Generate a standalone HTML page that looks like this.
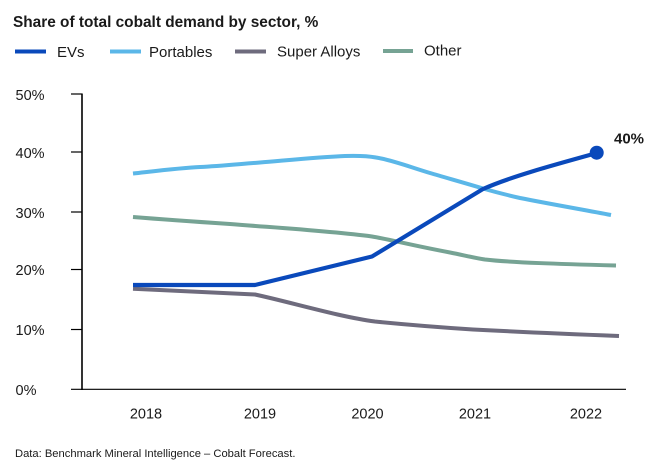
<!DOCTYPE html>
<html>
<head>
<meta charset="utf-8">
<style>
  html, body { margin:0; padding:0; background:#fff; }
  body { width:659px; height:468px; overflow:hidden; position:relative; font-family:"Liberation Sans", Arial, sans-serif; color:#1a1a1a; }
  svg { position:absolute; left:0; top:0; }
</style>
</head>
<body>
<svg width="659" height="468" viewBox="0 0 659 468" xmlns="http://www.w3.org/2000/svg" font-family="Liberation Sans, Arial, sans-serif">
  <!-- Title -->
  <text x="13" y="27" font-size="15.4" font-weight="bold" fill="#1a1a1a">Share of total cobalt demand by sector, %</text>

  <!-- Legend -->
  <line x1="15" y1="51.5" x2="46" y2="51.5" stroke="#0a49bb" stroke-width="4"/>
  <text x="57" y="57" font-size="15" fill="#1a1a1a">EVs</text>
  <line x1="110" y1="51.5" x2="141" y2="51.5" stroke="#5bb7e8" stroke-width="4"/>
  <text x="149" y="57" font-size="15" fill="#1a1a1a">Portables</text>
  <line x1="235" y1="51.5" x2="266" y2="51.5" stroke="#6e6b7d" stroke-width="4"/>
  <text x="277" y="56.5" font-size="15" fill="#1a1a1a">Super Alloys</text>
  <line x1="383" y1="51" x2="413" y2="51" stroke="#76a394" stroke-width="4"/>
  <text x="424" y="55.5" font-size="15" fill="#1a1a1a">Other</text>

  <!-- Y axis labels -->
  <g font-size="14.5" fill="#1a1a1a">
    <text x="15.5" y="100">50%</text>
    <text x="15.5" y="158">40%</text>
    <text x="15.5" y="218">30%</text>
    <text x="15.5" y="275">20%</text>
    <text x="15.5" y="335">10%</text>
    <text x="15.5" y="395">0%</text>
  </g>

  <!-- Axes -->
  <line x1="82" y1="93.5" x2="82" y2="390" stroke="#000" stroke-width="1.6"/>
  <line x1="71" y1="389.3" x2="626" y2="389.3" stroke="#000" stroke-width="1.2"/>
  <g stroke="#000" stroke-width="1.2">
    <line x1="71" y1="94" x2="82" y2="94"/>
    <line x1="71" y1="152" x2="82" y2="152"/>
    <line x1="71" y1="212" x2="82" y2="212"/>
    <line x1="71" y1="269.5" x2="82" y2="269.5"/>
    <line x1="71" y1="329.5" x2="82" y2="329.5"/>
  </g>

  <!-- X labels -->
  <g font-size="14.5" fill="#1a1a1a" text-anchor="middle">
    <text x="146" y="418.5">2018</text>
    <text x="260" y="418.5">2019</text>
    <text x="367.5" y="418.5">2020</text>
    <text x="475" y="418.5">2021</text>
    <text x="586" y="418.5">2022</text>
  </g>

  <!-- Series -->
  <g fill="none" stroke-width="4" stroke-linejoin="round" stroke-linecap="butt">
    <!-- Portables -->
    <path stroke="#5bb7e8" d="M133,173.5 C160,170.5 180,168 200,167 C220,166 240,164 260,162.5 C290,160 320,157 345,156 C358,155.6 368,156 376,157.5 C392,160 410,167 430,173 C445,177.5 465,183 483,188.5 C495,192 505,194.5 520,198 C550,204 585,210 611,215"/>
    <!-- Other -->
    <path stroke="#76a394" d="M133,217 C170,220 200,222 230,224 C280,228 330,231 372,236.5 C390,239.5 410,245 450,252.5 C465,255.5 475,258 485,259.5 C510,262.5 560,264 616,265.5"/>
    <!-- Super Alloys -->
    <path stroke="#6e6b7d" d="M133,288.8 C180,291 220,292.5 255,294.5 C290,302 340,317 375,321.5 C390,323 420,326 473,329.5 C530,332.5 580,334.5 619,336"/>
    <!-- EVs -->
    <path stroke="#0a49bb" stroke-width="4.2" d="M133,285 L255,285 L372,256.5 L483,189 C510,177 550,166 597,153"/>
  </g>
  <circle cx="596.7" cy="152.7" r="7" fill="#0a49bb"/>
  <text x="614" y="143.5" font-size="15" font-weight="bold" fill="#1a1a1a">40%</text>

  <!-- Footer -->
  <text x="15" y="457" font-size="11.2" fill="#1a1a1a">Data: Benchmark Mineral Intelligence – Cobalt Forecast.</text>
</svg>
</body>
</html>
